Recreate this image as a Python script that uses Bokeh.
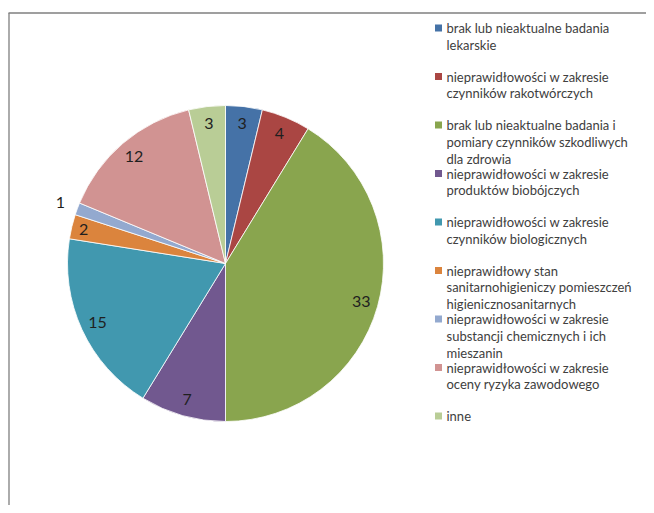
import math
from bokeh.plotting import figure
from bokeh.models import Range1d
from bokeh.embed import file_html
from bokeh.resources import INLINE
from bokeh.core.properties import value

# ---- data ----
categories = [
    "brak lub nieaktualne badania\nlekarskie",
    "nieprawidłowości w zakresie\nczynników rakotwórczych",
    "brak lub nieaktualne badania i\npomiary czynników szkodliwych\ndla zdrowia",
    "nieprawidłowości w zakresie\nproduktów biobójczych",
    "nieprawidłowości w zakresie\nczynników biologicznych",
    "nieprawidłowy stan\nsanitarnohigieniczy pomieszczeń\nhigienicznosanitarnych",
    "nieprawidłowości w zakresie\nsubstancji chemicznych i ich\nmieszanin",
    "nieprawidłowości w zakresie\noceny ryzyka zawodowego",
    "inne",
]
counts = [3, 4, 33, 7, 15, 2, 1, 12, 3]
colors = ["#4572A7", "#AA4643", "#89A54E", "#71588F", "#4198AF",
          "#DB843D", "#93A9CF", "#D19392", "#B9CD96"]

# ---- layout ----
W, H = 646, 505
p = figure(width=W, height=H, output_backend="svg", toolbar_location=None,
           x_range=Range1d(0, W), y_range=Range1d(-H, 0),
           min_border=0)
p.axis.visible = False
p.grid.visible = False
p.outline_line_color = None
p.background_fill_color = "white"
p.border_fill_color = "white"

# frame lines
p.line(x=[8, 700], y=[-12.5, -12.5], line_color="#7f7f7f", line_width=1.3)
p.line(x=[8.5, 8.5], y=[-12.5, -560], line_color="#7f7f7f", line_width=1.3)

cx, cy, R = 225, -263, 158
total = float(sum(counts))
starts, ends, mids = [], [], []
cum = 0.0
for v in counts:
    a0 = math.pi / 2 - cum / total * 2 * math.pi
    cum += v
    a1 = math.pi / 2 - cum / total * 2 * math.pi
    starts.append(a0)
    ends.append(a1)
    mids.append((a0 + a1) / 2)

p.wedge(x=cx, y=cy, radius=R, start_angle=starts, end_angle=ends,
        direction="clock", fill_color=colors, line_color="white", line_width=0.8)

# data labels
lab_r = {1: 176, 2: 146}
lx, ly = [], []
for v, m in zip(counts, mids):
    r = lab_r.get(v, 141)
    lx.append(cx + r * math.cos(m))
    ly.append(cy + r * math.sin(m))
p.text(x=lx, y=ly, text=[str(v) for v in counts], text_align="center",
       text_baseline="middle", text_font=value("Lato"), text_font_size="16px",
       text_color="#1f1f1f")

# legend
leg_x, leg_y0, leg_step = 438, -27.5, -48.5
sq_y = [leg_y0 + i * leg_step for i in range(len(categories))]
p.rect(x=[leg_x] * len(categories), y=sq_y, width=7, height=7,
       fill_color=colors, line_color=None)
p.text(x=[leg_x + 8] * len(categories), y=[y + 8 for y in sq_y], text=categories,
       text_align="left", text_baseline="top", text_font=value("Lato"),
       text_font_size="13px", text_line_height=1.06, text_color="#404040")

open("out.html", "w").write(file_html(p, INLINE))
